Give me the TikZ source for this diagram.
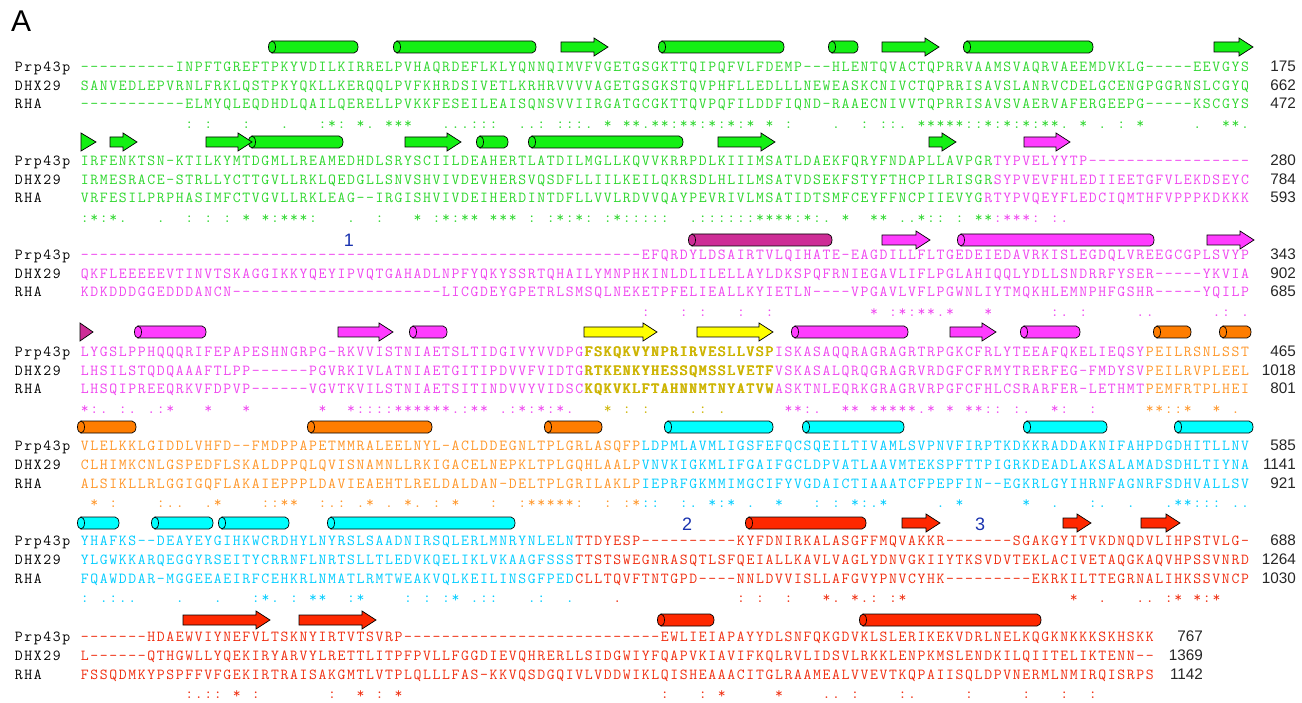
\documentclass[tikz,border=0pt]{standalone}
\usepackage{fontspec}
\setmainfont{Liberation Sans}
\setsansfont{Liberation Sans}
\definecolor{tGrn}{RGB}{45,215,45}
\definecolor{fGrn}{RGB}{20,240,20}
\definecolor{tMag}{RGB}{240,70,240}
\definecolor{fMag}{RGB}{255,60,255}
\definecolor{fDmg}{RGB}{205,45,150}
\definecolor{tYel}{RGB}{205,180,0}
\definecolor{fYel}{RGB}{255,255,0}
\definecolor{tOra}{RGB}{255,150,40}
\definecolor{fOra}{RGB}{255,125,0}
\definecolor{tCya}{RGB}{0,205,255}
\definecolor{fCya}{RGB}{0,255,255}
\definecolor{tRed}{RGB}{240,45,15}
\definecolor{fRed}{RGB}{255,40,0}
\definecolor{lBlu}{RGB}{25,50,175}
\newcommand\seqfnt{\ttfamily\fontsize{15.3pt}{19pt}\selectfont}
\newcommand\numfnt{\sffamily\fontsize{15.3pt}{19pt}\selectfont}
\newcommand\rscell[2]{\hbox to 9.51pt{\hss\color{#1}#2\hss}}
\tikzset{
  seqtxt/.style={anchor=base west,inner sep=0pt,outer sep=0pt,font=\seqfnt},
  rowlbl/.style={anchor=base west,inner sep=0pt,outer sep=0pt,font=\seqfnt,text=black},
  numlbl/.style={anchor=base east,inner sep=0pt,outer sep=0pt,font=\numfnt,text=black!85},
  ssline/.style={draw=black,line width=0.7pt,line join=miter},
  domlbl/.style={font=\sffamily\fontsize{18pt}{20pt}\selectfont,text=lBlu,inner sep=0pt},
}
\newcommand\cyl[4]{%
  \filldraw[ssline,fill=#4] (#1,#3-6) -- (#2-4,#3-6) arc[start angle=-90,end angle=90,x radius=4,y radius=6] -- (#1,#3+6) -- cycle;
  \filldraw[ssline,fill=#4] (#1,#3) ellipse[x radius=3.5,y radius=6];}
\newcommand\sarr[4]{%
  \filldraw[ssline,fill=#4] (#1,#3-5) -- (#2-14,#3-5) -- (#2-14,#3-9) -- (#2,#3) -- (#2-14,#3+9) -- (#2-14,#3+5) -- (#1,#3+5) -- cycle;}
\newcommand\stri[4]{%
  \filldraw[ssline,fill=#4] (#1,#3-9) -- (#2,#3) -- (#1,#3+9) -- cycle;}
\newcommand\rsnums[6]{%
  \node[numlbl] (#1n1) at (#3,#2) {#4};
  \node[numlbl] (#1n2) at (#3,#2-19) {#5};
  \node[numlbl] (#1n3) at (#3,#2-37.5) {#6};}

\ExplSyntaxOn
\str_new:N \l__rs_a_str
\str_new:N \l__rs_b_str
\str_new:N \l__rs_c_str
\tl_new:N \l__rs_sym_tl
\tl_new:N \l__rs_cons_tl
\tl_new:N \l__rs_colr_tl
\bool_new:N \l__rs_bold_bool
\clist_const:Nn \c__rs_strong_clist {STA,NEQK,NHQK,NDEQ,QHRK,MILV,MILF,HY,FYW}
\clist_const:Nn \c__rs_weak_clist {CSA,ATV,SAG,STNK,STPA,SGND,SNDEQK,NDEQHK,NEQHRK,FVLIM,HFY}
\cs_new_protected:Npn \__rs_test:nnnnn #1#2#3#4#5
 {
  \str_if_in:nnT {#1} {#2}
   {
    \str_if_in:nnT {#1} {#3}
     { \str_if_in:nnT {#1} {#4} { \tl_set:Nn \l__rs_sym_tl {#5} } }
   }
 }
\cs_new_protected:Npn \__rs_sym:nnn #1#2#3
 {
  \tl_clear:N \l__rs_sym_tl
  \bool_lazy_any:nF
   { { \str_if_eq_p:nn {#1} {-} } { \str_if_eq_p:nn {#2} {-} } { \str_if_eq_p:nn {#3} {-} } }
   {
    \bool_lazy_and:nnTF { \str_if_eq_p:nn {#1} {#2} } { \str_if_eq_p:nn {#2} {#3} }
     { \tl_set:Nn \l__rs_sym_tl {*} }
     {
      \clist_map_inline:Nn \c__rs_strong_clist
       { \__rs_test:nnnnn {##1} {#1} {#2} {#3} {:} }
      \tl_if_empty:NT \l__rs_sym_tl
       {
        \clist_map_inline:Nn \c__rs_weak_clist
         { \__rs_test:nnnnn {##1} {#1} {#2} {#3} {.} }
       }
     }
   }
 }
\cs_generate_variant:Nn \__rs_sym:nnn { eee }
\cs_new_protected:Npn \__rs_setcol:nnnn #1#2#3#4
 {
  \int_compare:nNnF {#1} < {#2}
   { \int_compare:nNnF {#1} > {#3} { \tl_set:Nn \l__rs_colr_tl {#4} } }
 }
\cs_new_protected:Npn \__rs_cells:n #1
 {
  \str_map_inline:nn {#1}
   {
    \hbox_to_wd:nn {9.51pt}
     {
      \hss
      \bool_if:NT \l__rs_bold_bool
       { \hbox_overlap_right:n {##1} \kern 0.45pt \hbox_overlap_right:n {##1} \kern 0.45pt }
      ##1 \hss
     }
   }
 }
\cs_generate_variant:Nn \__rs_cells:n { e }
\NewDocumentCommand \rsmono { m } { \__rs_cells:n {#1} }
\NewDocumentCommand \rsbold { } { \bool_set_true:N \l__rs_bold_bool }
\cs_new_protected:Npn \__rs_seg:Nnnn #1#2#3#4
 { \group_begin: #4 \__rs_cells:e { \str_range:Nnn #1 {#2} {#3} } \group_end: }
\NewDocumentCommand \rsseqs { m m m }
 {
  \str_set:Nn \l__rs_a_str {#1} \str_remove_all:Nn \l__rs_a_str {~}
  \str_set:Nn \l__rs_b_str {#2} \str_remove_all:Nn \l__rs_b_str {~}
  \str_set:Nn \l__rs_c_str {#3} \str_remove_all:Nn \l__rs_c_str {~}
 }
\NewDocumentCommand \rsrows { m m m m m m }
 {
  \node[rowlbl] (#1lp) at (14,#2) { \rsmono{Prp43p} };
  \node[rowlbl] (#1ld) at (14,#2-19) { \rsmono{DHX29} };
  \node[rowlbl] (#1lr) at (14,#2-37.5) { \rsmono{RHA} };
  \node[seqtxt] (#1p) at (80,#2) { \clist_map_inline:nn {#3} { \__rs_seg:Nnnn \l__rs_a_str ##1 } };
  \node[seqtxt] (#1d) at (80,#2-19) { \clist_map_inline:nn {#4} { \__rs_seg:Nnnn \l__rs_b_str ##1 } };
  \node[seqtxt] (#1r) at (80,#2-37.5) { \clist_map_inline:nn {#5} { \__rs_seg:Nnnn \l__rs_c_str ##1 } };
  \tl_clear:N \l__rs_cons_tl
  \int_step_inline:nn { \str_count:N \l__rs_a_str }
   {
    \__rs_sym:eee { \str_item:Nn \l__rs_a_str {##1} } { \str_item:Nn \l__rs_b_str {##1} } { \str_item:Nn \l__rs_c_str {##1} }
    \tl_set:Nn \l__rs_colr_tl { black }
    \clist_map_inline:nn {#6} { \__rs_setcol:nnnn {##1} ####1 }
    \tl_put_right:Nx \l__rs_cons_tl { \exp_not:N \rscell { \l__rs_colr_tl } { \exp_not:V \l__rs_sym_tl } }
   }
  \node[seqtxt] (#1c) at (80,#2-57) { \l__rs_cons_tl };
 }
\ExplSyntaxOff

\begin{document}
\begin{tikzpicture}[x=1pt,y=1pt]
\useasboundingbox (0,0) rectangle (1302,-703);
\fill[white] (0,0) rectangle (1302,-703);
\node[anchor=base west,inner sep=0pt,font=\sffamily\fontsize{30pt}{30pt}\selectfont] (panelA) at (11,-32) {A};

% ---------- block 1
\cyl{272}{358}{-47}{fGrn}
\cyl{397}{536}{-47}{fGrn}
\sarr{561}{608}{-47}{fGrn}
\cyl{662}{784}{-47}{fGrn}
\cyl{832}{858}{-47}{fGrn}
\sarr{882}{939}{-47}{fGrn}
\cyl{967}{1093}{-47}{fGrn}
\sarr{1214}{1253}{-47}{fGrn}
\rsseqs{---------- INPFTGREFT PKYVDILKIR RELPVHAQRD EFLKLYQNNQ IMVFVGETGS GKTTQIPQFV LFDEMP---H LENTQVACTQ PRRVAAMSVA QRVAEEMDVK LG-----EEV GYS}
       {SANVEDLEPV RNLFRKLQST PKYQKLLKER QQLPVFKHRD SIVETLKRHR VVVVAGETGS GKSTQVPHFL LEDLLLNEWE ASKCNIVCTQ PRRISAVSLA NRVCDELGCE NGPGGRNSLC GYQ}
       {---------- -ELMYQLEQD HDLQAILQER ELLPVKKFES EILEAISQNS VVIIRGATGC GKTTQVPQFI LDDFIQND-R AAECNIVVTQ PRRISAVSVA ERVAFERGEE PG-----KSC GYS}
\rsrows{b1}{-71.5}{{1}{123}{\color{tGrn}}}{{1}{123}{\color{tGrn}}}{{1}{123}{\color{tGrn}}}{{1}{123}{tGrn}}
\rsnums{b1}{-71.5}{1296}{175}{662}{472}

% ---------- block 2
\stri{81}{96}{-142}{fGrn}
\sarr{110}{137}{-142}{fGrn}
\cyl{252}{343}{-142}{fGrn}
\sarr{206}{252}{-142}{fGrn}
\sarr{405}{461}{-142}{fGrn}
\cyl{480}{508}{-142}{fGrn}
\cyl{532}{683}{-142}{fGrn}
\sarr{718}{775}{-142}{fGrn}
\sarr{929}{956}{-142}{fGrn}
\sarr{1024}{1070}{-142}{fMag}
\rsseqs{IRFENKTSN- KTILKYMTDG MLLREAMEDH DLSRYSCIIL DEAHERTLAT DILMGLLKQV VKRRPDLKII IMSATLDAEK FQRYFNDAPL LAVPGRTYPV ELYYTP---- ---------- ---}
       {IRMESRACE- STRLLYCTTG VLLRKLQEDG LLSNVSHVIV DEVHERSVQS DFLLIILKEI LQKRSDLHLI LMSATVDSEK FSTYFTHCPI LRISGRSYPV EVFHLEDIIE ETGFVLEKDS EYC}
       {VRFESILPRP HASIMFCTVG VLLRKLEAG- -IRGISHVIV DEIHERDINT DFLLVVLRDV VQAYPEVRIV LMSATIDTSM FCEYFFNCPI IEVYGRTYPV QEYFLEDCIQ MTHFVPPPKD KKK}
\rsrows{b2}{-165.5}{{1}{96}{\color{tGrn}},{97}{123}{\color{tMag}}}{{1}{96}{\color{tGrn}},{97}{123}{\color{tMag}}}{{1}{95}{\color{tGrn}},{96}{123}{\color{tMag}}}{{1}{96}{tGrn},{97}{123}{tMag}}
\rsnums{b2}{-165.5}{1296}{280}{784}{593}

% ---------- block 3
\cyl{692}{832}{-240}{fDmg}
\sarr{882}{930}{-240}{fMag}
\cyl{961}{1154}{-240}{fMag}
\sarr{1207}{1254}{-240}{fMag}
\node[domlbl] (lab1) at (349,-240) {1};
\rsseqs{---------- ---------- ---------- ---------- ---------- ---------E FQRDYLDSAI RTVLQIHATE -EAGDILLFL TGEDEIEDAV RKISLEGDQL VREEGCGPLS VYP}
       {QKFLEEEEEV TINVTSKAGG IKKYQEYIPV QTGAHADLNP FYQKYSSRTQ HAILYMNPHK INLDLILELL AYLDKSPQFR NIEGAVLIFL PGLAHIQQLY DLLSNDRRFY SER-----YK VIA}
       {KDKDDDGGED DDANCN---- ---------- --------LI CGDEYGPETR LSMSQLNEKE TPFELIEALL KYIETLN--- -VPGAVLVFL PGWNLIYTMQ KHLEMNPHFG SHR-----YQ ILP}
\rsrows{b3}{-259.5}{{1}{123}{\color{tMag}}}{{1}{123}{\color{tMag}}}{{1}{123}{\color{tMag}}}{{1}{123}{tMag}}
\rsnums{b3}{-259.5}{1296}{343}{902}{685}

% ---------- block 4
\stri{80}{93}{-332}{fDmg}
\cyl{138}{206}{-332}{fMag}
\sarr{338}{393}{-332}{fMag}
\cyl{413}{447}{-332}{fMag}
\sarr{584}{657}{-332}{fYel}
\sarr{697}{773}{-332}{fYel}
\cyl{795}{908}{-332}{fMag}
\sarr{950}{996}{-332}{fMag}
\cyl{1024}{1080}{-332}{fMag}
\cyl{1157}{1191}{-332}{fOra}
\cyl{1223}{1251}{-332}{fOra}
\rsseqs{LYGSLPPHQQ QRIFEPAPES HNGRPG-RKV VISTNIAETS LTIDGIVYVV DPGFSKQKVY NPRIRVESLL VSPISKASAQ QRAGRAGRTR PGKCFRLYTE EAFQKELIEQ SYPEILRSNL SST}
       {LHSILSTQDQ AAAFTLPP-- ----PGVRKI VLATNIAETG ITIPDVVFVI DTGRTKENKY HESSQMSSLV ETFVSKASAL QRQGRAGRVR DGFCFRMYTR ERFEG-FMDY SVPEILRVPL EEL}
       {LHSQIPREEQ RKVFDPVP-- ----VGVTKV ILSTNIAETS ITINDVVYVI DSCKQKVKLF TAHNNMTNYA TVWASKTNLE QRKGRAGRVR PGFCFHLCSR ARFER-LETH MTPEMFRTPL HEI}
\rsrows{b4}{-356.5}{{1}{53}{\color{tMag}},{54}{73}{\color{tYel}\rsbold},{74}{112}{\color{tMag}},{113}{123}{\color{tOra}}}{{1}{53}{\color{tMag}},{54}{73}{\color{tYel}\rsbold},{74}{112}{\color{tMag}},{113}{123}{\color{tOra}}}{{1}{53}{\color{tMag}},{54}{73}{\color{tYel}\rsbold},{74}{112}{\color{tMag}},{113}{123}{\color{tOra}}}{{1}{53}{tMag},{54}{73}{tYel},{74}{112}{tMag},{113}{123}{tOra}}
\rsnums{b4}{-356.5}{1296}{465}{1018}{801}

% ---------- block 5
\cyl{81}{136}{-427}{fOra}
\cyl{311}{432}{-427}{fOra}
\cyl{548}{602}{-427}{fOra}
\cyl{668}{773}{-427}{fCya}
\cyl{806}{904}{-427}{fCya}
\cyl{1027}{1107}{-427}{fCya}
\cyl{1178}{1253}{-427}{fCya}
\rsseqs{VLELKKLGID DLVHFD--FM DPPAPETMMR ALEELNYL-A CLDDEGNLTP LGRLASQFPL DPMLAVMLIG SFEFQCSQEI LTIVAMLSVP NVFIRPTKDK KRADDAKNIF AHPDGDHITL LNV}
       {CLHIMKCNLG SPEDFLSKAL DPPQLQVISN AMNLLRKIGA CELNEPKLTP LGQHLAALPV NVKIGKMLIF GAIFGCLDPV ATLAAVMTEK SPFTTPIGRK DEADLAKSAL AMADSDHLTI YNA}
       {ALSIKLLRLG GIGQFLAKAI EPPPLDAVIE AEHTLRELDA LDAN-DELTP LGRILAKLPI EPRFGKMMIM GCIFYVGDAI CTIAAATCFP EPFIN--EGK RLGYIHRNFA GNRFSDHVAL LSV}
\rsrows{b5}{-450.5}{{1}{59}{\color{tOra}},{60}{123}{\color{tCya}}}{{1}{59}{\color{tOra}},{60}{123}{\color{tCya}}}{{1}{59}{\color{tOra}},{60}{123}{\color{tCya}}}{{1}{59}{tOra},{60}{123}{tCya}}
\rsnums{b5}{-450.5}{1296}{585}{1141}{921}

% ---------- block 6
\cyl{81}{119}{-523}{fCya}
\cyl{155}{213}{-523}{fCya}
\cyl{222}{289}{-523}{fCya}
\cyl{331}{515}{-523}{fCya}
\cyl{749}{866}{-523}{fRed}
\sarr{902}{940}{-523}{fRed}
\sarr{1063}{1091}{-523}{fRed}
\sarr{1141}{1180}{-523}{fRed}
\node[domlbl] (lab2) at (687,-524.5) {2};
\node[domlbl] (lab3) at (980,-524.5) {3};
\rsseqs{YHAFKS--DE AYEYGIHKWC RDHYLNYRSL SAADNIRSQL ERLMNRYNLE LNTTDYESP- ---------K YFDNIRKALA SGFFMQVAKK R-------SG AKGYITVKDN QDVLIHPSTV LG-}
       {YLGWKKARQE GGYRSEITYC RRNFLNRTSL LTLEDVKQEL IKLVKAAGFS SSTTSTSWEG NRASQTLSFQ EIALLKAVLV AGLYDNVGKI IYTKSVDVTE KLACIVETAQ GKAQVHPSSV NRD}
       {FQAWDDAR-M GGEEAEIRFC EHKRLNMATL RMTWEAKVQL KEILINSGFP EDCLLTQVFT NTGPD----N NLDVVISLLA FGVYPNVCYH K--------- EKRKILTTEG RNALIHKSSV NCP}
\rsrows{b6}{-545.5}{{1}{52}{\color{tCya}},{53}{123}{\color{tRed}}}{{1}{52}{\color{tCya}},{53}{123}{\color{tRed}}}{{1}{52}{\color{tCya}},{53}{123}{\color{tRed}}}{{1}{52}{tCya},{53}{123}{tRed}}
\rsnums{b6}{-545.5}{1296}{688}{1264}{1030}

% ---------- block 7
\sarr{183}{270}{-620}{fRed}
\sarr{299}{376}{-620}{fRed}
\cyl{661}{714}{-620}{fRed}
\cyl{863}{1041}{-620}{fRed}
\rsseqs{-------HDA EWVIYNEFVL TSKNYIRTVT SVRP------ ---------- ---------- -EWLIEIAPA YYDLSNFQKG DVKLSLERIK EKVDRLNELK QGKNKKKSKH SKK}
       {L------QTH GWLLYQEKIR YARVYLRETT LITPFPVLLF GGDIEVQHRE RLLSIDGWIY FQAPVKIAVI FKQLRVLIDS VLRKKLENPK MSLENDKILQ IITELIKTEN N--}
       {FSSQDMKYPS PFFVFGEKIR TRAISAKGMT LVTPLQLLLF AS-KKVQSDG QIVLVDDWIK LQISHEAAAC ITGLRAAMEA LVVEVTKQPA IISQLDPVNE RMLNMIRQIS RPS}
\rsrows{b7}{-641.5}{{1}{113}{\color{tRed}}}{{1}{113}{\color{tRed}}}{{1}{113}{\color{tRed}}}{{1}{113}{tRed}}
\rsnums{b7}{-641.5}{1203}{767}{1369}{1142}
\end{tikzpicture}
\end{document}
